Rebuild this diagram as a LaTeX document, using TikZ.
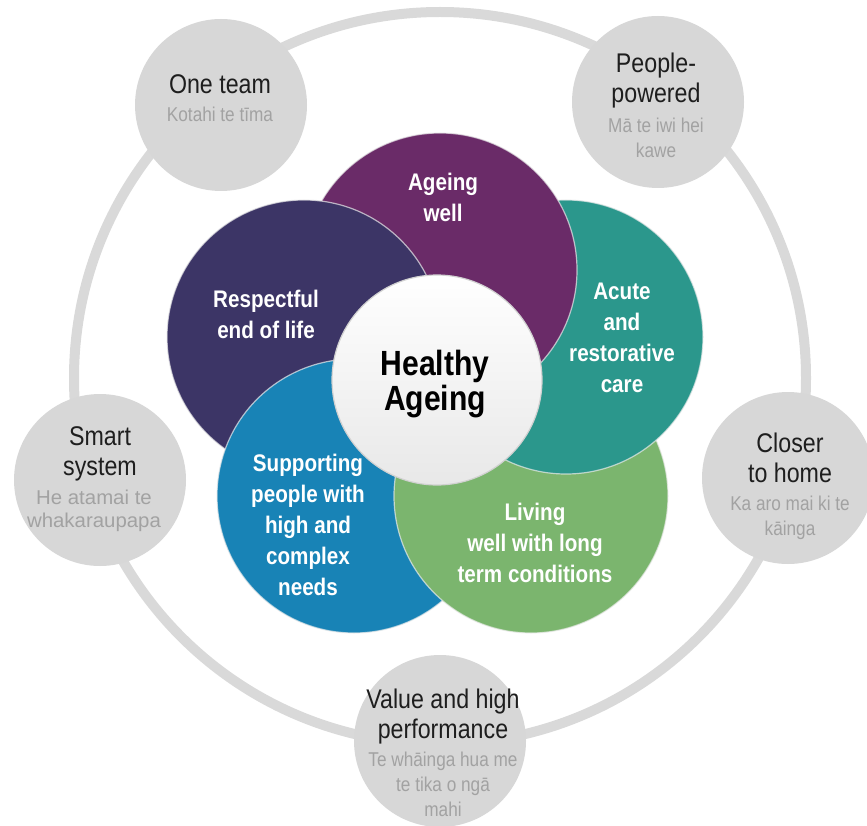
\documentclass[tikz,border=0pt]{standalone}
\usepackage{fontspec}
\setmainfont{Liberation Sans}[FakeStretch=0.86]
\newfontfamily\widesans{Liberation Sans}[FakeStretch=1.02]
\usepackage{xcolor}
\usetikzlibrary{positioning}
\definecolor{ringgray}{HTML}{D9D9D9}
\definecolor{circgray}{HTML}{D7D7D7}
\definecolor{darktext}{HTML}{1E1E1E}
\definecolor{maorigray}{HTML}{A2A2A2}
\definecolor{ageingc}{HTML}{6A2B68}
\definecolor{endc}{HTML}{3C3566}
\definecolor{acutec}{HTML}{2B978C}
\definecolor{livingc}{HTML}{7BB56E}
\definecolor{supportc}{HTML}{1883B6}
\tikzset{
  ring/.style={draw=ringgray, line width=10pt},
  principle/.style={circle, fill=circgray, minimum size=172pt, inner sep=0pt},
  petal/.style={circle, minimum size=274pt, inner sep=0pt, draw=white!85!gray, draw opacity=0.7, line width=1.2pt},
  petaledge/.style={draw=white!85!gray, draw opacity=0.7, line width=1.2pt},
  hubcirc/.style={circle, minimum size=210pt, inner sep=0pt, top color=white, bottom color=black!9, draw=black!18, line width=1.2pt},
  principletext/.style={font=\fontsize{27}{30}\selectfont, text=darktext, align=center, anchor=base, inner sep=0pt},
  maoritext/.style={font=\fontsize{20}{25}\selectfont, text=maorigray, align=center, anchor=base, inner sep=0pt},
  petaltext/.style={font=\bfseries\fontsize{24}{31}\selectfont, text=white, align=center, anchor=base, inner sep=0pt},
  hubtext/.style={font=\bfseries\fontsize{35}{35}\selectfont, text=black, align=center, anchor=base, inner sep=0pt},
}
\begin{document}
\begin{tikzpicture}[x=1pt,y=-1pt]
  \useasboundingbox (0,0) rectangle (867,826);
  % outer ring
  \coordinate (hub) at (440,378);
  \draw[ring] (hub) circle (366pt);
  % grey circles on the ring
  \node[principle] (oneteam) at (221,105) {};
  \node[principle] (people) at (658,102) {};
  \node[principle] (smart) at (100,480) {};
  \node[principle] (closer) at (788,478) {};
  \node[principle] (value) at (440,741) {};
  % petals, each one over the one before
  \node[petal, fill=livingc] (living) at (531,496) {};
  \node[petal, fill=acutec] (acute) at (566,337) {};
  \node[petal, fill=ageingc] (ageing) at (440,270) {};
  \node[petal, fill=endc] (endlife) at (304,337) {};
  \node[petal, fill=supportc] (support) at (354,496) {};
  % green goes back on top of the blue one
  \begin{scope}
    \clip (support.center) circle (138.5pt);
    \draw[petaledge, fill=livingc] (living.center) circle (137pt);
  \end{scope}
  % centre
  \node[hubcirc] (healthy) at (437,380) {};
  \node[hubtext] (healthy-txt) at (435,410) {Healthy\\Ageing};
  % petal labels
  \node[petaltext] (ageing-txt) at (443,222) {Ageing\\well};
  \node[petaltext] (endlife-txt) at (266,338) {Respectful\\end of life};
  \node[petaltext] (acute-txt) at (622,392) {Acute\\and\\restorative\\care};
  \node[petaltext] (support-txt) at (308,595) {Supporting\\people with\\high and\\complex\\needs};
  \node[petaltext] (living-txt) at (535,582) {Living\\well with long\\term conditions};
  % labels of the grey circles
  \node[principletext] (oneteam-en) at (220,94) {One team};
  \node[maoritext] (oneteam-mi) at (220,122) {Kotahi te tīma};
  \node[principletext] (people-en) at (656,103) {People-\\powered};
  \node[maoritext] (people-mi) at (656,158) {Mā te iwi hei\\kawe};
  \node[principletext] (smart-en) at (100,475) {Smart\\system};
  \node[maoritext, font=\widesans\fontsize{20}{23}\selectfont] (smart-mi) at (94,527) {He atamai te\\whakaraupapa};
  \node[principletext] (closer-en) at (790,482) {Closer\\to home};
  \node[maoritext] (closer-mi) at (790,535) {Ka aro mai ki te\\kāinga};
  \node[principletext] (value-en) at (443,738) {Value and high\\performance};
  \node[maoritext] (value-mi) at (443,816) {Te whāinga hua me\\te tika o ngā\\mahi};
\end{tikzpicture}
\end{document}
